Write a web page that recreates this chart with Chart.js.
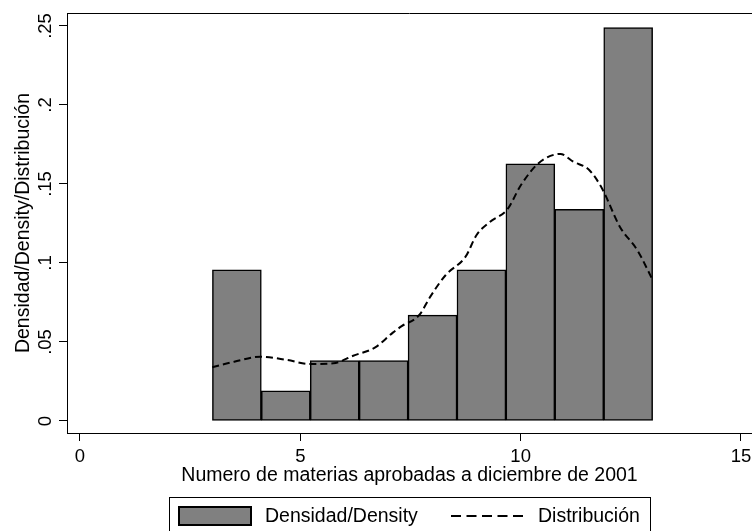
<!DOCTYPE html>
<html>
<head>
<meta charset="utf-8">
<script src="https://cdn.jsdelivr.net/npm/chart.js@4.4.1/dist/chart.umd.min.js"></script>
<style>
  html, body { margin: 0; padding: 0; background: #fff; overflow: hidden; }
  #wrap { position: relative; width: 752px; height: 531px; }
  #legend {
    position: absolute; left: 169px; top: 497px; width: 482px; height: 60px;
    border: 1px solid #000; box-sizing: border-box;
    font-family: "Liberation Sans", Arial, sans-serif; font-size: 19.5px; color: #000;
  }
  #legend .swatch {
    position: absolute; left: 8px; top: 8px; width: 74px; height: 20px;
    background: #808080; border: 2px solid #000; box-sizing: border-box;
  }
  #legend .lbl { position: absolute; top: 6px; line-height: 22px; white-space: nowrap; }
  #legend svg { position: absolute; left: 280px; top: 8px; }
</style>
</head>
<body>
<div id="wrap">
  <canvas id="hist" width="752" height="531"></canvas>
  <div id="legend">
    <div class="swatch"></div>
    <span class="lbl" style="left:95px">Densidad/Density</span>
    <svg width="78" height="20"><line x1="1" y1="10" x2="76" y2="10" stroke="#000" stroke-width="2" stroke-dasharray="10,5.5"/></svg>
    <span class="lbl" style="left:368px">Distribución</span>
  </div>
</div>
<script>
/* ---- data ---- */
const binMids = [3.56, 4.67, 5.78, 6.89, 8.0, 9.11, 10.22, 11.33, 12.44];
const densityValues = [0.0957, 0.0191, 0.0383, 0.0383, 0.0670, 0.0957, 0.1628, 0.1340, 0.2489];
const kdensX = [3.0, 3.5, 4.1, 4.7, 5.2, 5.75, 6.2, 6.7, 7.1, 7.3, 7.7, 7.95, 8.3, 8.75, 9.0, 9.3, 9.7, 10.0, 10.4, 10.9, 11.2, 11.55, 11.85, 12.25, 12.65, 13.0];
const kdensY = [0.034, 0.0375, 0.0407, 0.0386, 0.0361, 0.0365, 0.0413, 0.0466, 0.0559, 0.060, 0.0671, 0.0787, 0.0924, 0.104, 0.1177, 0.126, 0.134, 0.149, 0.163, 0.169, 0.164, 0.159, 0.147, 0.123, 0.108, 0.089];
const xTicks = [0, 5, 10, 15];
const xTickLabels = ["0", "5", "10", "15"];
const yTicks = [0, 0.05, 0.1, 0.15, 0.2, 0.25];
const yTickLabels = ["0", ".05", ".1", ".15", ".2", ".25"];

const FONT = '"Liberation Sans", Arial, sans-serif';

// top outline of the plot region
const frameTop = {
  id: "frameTop",
  afterDraw(chart) {
    const { ctx, chartArea } = chart;
    ctx.save();
    ctx.strokeStyle = "#000";
    ctx.lineWidth = 1;
    ctx.beginPath();
    ctx.moveTo(chartArea.left, chartArea.top + 0.5);
    ctx.lineTo(chartArea.right, chartArea.top + 0.5);
    ctx.stroke();
    ctx.restore();
  }
};

new Chart(document.getElementById("hist"), {
  type: "bar",
  data: {
    datasets: [
      {
        type: "line",
        label: "Distribución",
        data: kdensX.map((x, i) => ({ x, y: kdensY[i] })),
        borderColor: "#000",
        borderWidth: 2,
        borderDash: [7, 4],
        pointRadius: 0,
        fill: false,
        cubicInterpolationMode: "monotone",
        order: 0
      },
      {
        label: "Densidad/Density",
        data: binMids.map((x, i) => ({ x, y: densityValues[i] })),
        backgroundColor: "#808080",
        borderColor: "#000",
        borderWidth: 1.5,
        borderSkipped: false,
        barPercentage: 1,
        categoryPercentage: 1,
        order: 1
      }
    ]
  },
  plugins: [frameTop],
  options: {
    responsive: false,
    animation: false,
    layout: { padding: { top: 13, right: 0, bottom: 0, left: 0 } },
    plugins: { legend: { display: false }, tooltip: { enabled: false } },
    scales: {
      x: {
        type: "linear",
        offset: false,
        min: -0.295,
        max: 15.25,
        afterBuildTicks: s => { s.ticks = xTicks.map(v => ({ value: v })); },
        afterFit: s => { s.height = 98; },
        grid: { drawOnChartArea: false, drawTicks: true, tickLength: 8, color: "#000", offset: false },
        border: { display: true, color: "#000", width: 1 },
        ticks: {
          padding: 0,
          maxRotation: 0,
          color: "#000",
          font: { family: FONT, size: 18.5, lineHeight: 1.72 },
          callback: (v) => xTickLabels[xTicks.indexOf(v)]
        },
        title: {
          display: true,
          text: "Numero de materias aprobadas a diciembre de 2001",
          color: "#000",
          font: { family: FONT, size: 19.5 },
          padding: { top: 0, bottom: 44 }
        }
      },
      y: {
        type: "linear",
        min: -0.0076,
        max: 0.2582,
        afterBuildTicks: s => { s.ticks = yTicks.map(v => ({ value: v })); },
        afterFit: s => { s.width = 67; },
        grid: { drawOnChartArea: false, drawTicks: true, tickLength: 8, color: "#000" },
        border: { display: true, color: "#000", width: 1 },
        ticks: {
          padding: 0,
          minRotation: 90,
          maxRotation: 90,
          crossAlign: "center",
          color: "#000",
          font: { family: FONT, size: 18.5 },
          callback: (v) => yTickLabels[yTicks.indexOf(v)]
        },
        title: {
          display: true,
          text: "Densidad/Density/Distribución",
          color: "#000",
          font: { family: FONT, size: 19.5 },
          padding: { top: 12, bottom: 0 }
        }
      }
    }
  }
});
</script>
</body>
</html>
